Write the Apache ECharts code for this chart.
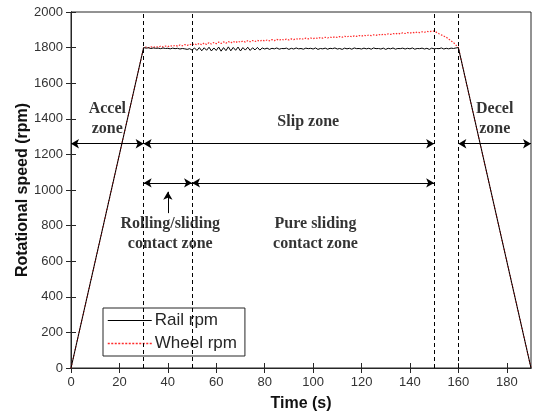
<!DOCTYPE html>
<html><head><meta charset="utf-8">
<script src="https://cdn.jsdelivr.net/npm/echarts@6/dist/echarts.min.js"></script>
<style>html,body{margin:0;padding:0;background:#fff}#c{width:536px;height:414px}</style>
</head><body><div id="c"></div>
<script>
// Rail rpm: ramp up 0->30 s, plateau 30..160 s (1 s steps), ramp down to 190 s
const railStartT = [0];
const railStartV = [0];
const railPlateauT0 = 30;
const railPlateau = [
1800,1797,1799,1795,1798,1796,1797,1794,1798,1795,1796,1793,1797,1794,1796,1792,1795,1793,1790,1794,
1786,1798,1784,1800,1782,1799,1785,1802,1781,1798,1784,1803,1780,1800,1783,1804,1782,1801,1785,1803,1781,1800,1786,1802,1784,1799,1787,1801,1786,1798,
1792,1797,1790,1796,1793,1798,1791,1795,1794,1797,1790,1796,1792,1798,1793,1795,1791,1797,1794,1796,
1792,1798,1790,1795,1793,1797,1791,1796,1794,1798,1792,1795,1790,1797,1793,1796,1791,1798,1794,1795,
1792,1797,1793,1796,1791,1798,1794,1795,1792,1797,1790,1796,1793,1798,1791,1795,1794,1797,1792,1796,
1793,1798,1791,1795,1794,1797,1792,1796,1790,1797,1793,1795,1794,1798,1792,1796,1793,1797,1795,1798,
1800];
const railEndT = [190];
const railEndV = [0];

// Wheel rpm
const wheelStartT = [0];
const wheelStartV = [0];
const wheelPlateauT0 = 30;
const wheelPlateau = [
1800,1803,1799,1805,1801,1806,1802,1808,1804,1809,
1805,1811,1807,1813,1808,1815,1810,1817,1812,1819,
1814,1822,1815,1824,1816,1826,1818,1828,1820,1829,
1822,1831,1823,1832,1825,1834,1826,1835,1828,1836,
1830,1837,1831,1839,1833,1840,1834,1841,1836,1842,
1837,1843,1838,1845,1839,1846,1841,1847,1842,1848,
1843,1849,1845,1850,1846,1852,1847,1853,1849,1854,
1850,1855,1851,1857,1853,1858,1854,1859,1856,1861,
1857,1862,1858,1864,1860,1865,1861,1866,1863,1868,
1864,1869,1866,1871,1867,1872,1869,1874,1870,1876,
1872,1877,1874,1879,1876,1881,1877,1883,1879,1884,
1881,1886,1882,1888,1884,1889,1886,1891,1888,1893,
1893];
const wheelDropT = [152,155,158,160,190];
const wheelDropV = [1878,1858,1828,1800,0];

const zoneLines = [30, 50, 150, 160];
const arrowRow1 = [[0,30],[30,150],[160,190]];
const arrowRow1Y = 1260;
const arrowRow2 = [[30,50],[50,150]];
const arrowRow2Y = 1040;
const upArrow = {t:40, from:870, to:990};
const zoneTexts = [
  {t:15, v:1397, text:'Accel\nzone'},
  {t:98, v:1385, text:'Slip zone'},
  {t:175, v:1397, text:'Decel\nzone'},
  {t:41, v:752, text:'Rolling/sliding\ncontact zone'},
  {t:101, v:752, text:'Pure sliding\ncontact zone'}
];
const xTickValues = [0,20,40,60,80,100,120,140,160,180];
const xRange = {min:0, max:190};
const yTicks = {min:0, max:2000, interval:200};

function build(startT, startV, t0, plateau, endT, endV){
  const d = [];
  startT.forEach((t,i)=>d.push([t,startV[i]]));
  plateau.forEach((v,i)=>d.push([t0+i,v]));
  endT.forEach((t,i)=>d.push([t,endV[i]]));
  return d;
}
const railData = build(railStartT, railStartV, railPlateauT0, railPlateau, railEndT, railEndV);
const wheelData = build(wheelStartT, wheelStartV, wheelPlateauT0, wheelPlateau, wheelDropT, wheelDropV);

const axisColor = '#262626';
const railColor = '#000';
const wheelColor = '#ff2a2a';
const labelStyle = {color:'#333', fontFamily:'Liberation Sans', fontSize:13};

const arrowLines = [];
arrowRow1.forEach(p=>arrowLines.push([{coord:[p[0],arrowRow1Y]},{coord:[p[1],arrowRow1Y]}]));
arrowRow2.forEach(p=>arrowLines.push([{coord:[p[0],arrowRow2Y]},{coord:[p[1],arrowRow2Y]}]));
arrowLines.push([{coord:[upArrow.t,upArrow.from], symbol:'none'},{coord:[upArrow.t,upArrow.to], symbol:'arrow'}]);

const chart = echarts.init(document.getElementById('c'), null, {renderer:'canvas'});
chart.setOption({
  animation:false,
  backgroundColor:'#fff',
  grid:{left:71, right:5, top:12, bottom:46, show:true, borderColor:axisColor, borderWidth:1,
        containLabel:false, outerBoundsMode:'none'},
  xAxis:[{
    type:'value', min:xRange.min, max:xRange.max,
    name:'Time (s)', nameLocation:'middle', nameGap:28, nameMoveOverlap:false,
    nameTextStyle:{fontFamily:'Liberation Sans', fontWeight:'bold', fontSize:16, color:'#111'},
    axisLine:{show:true, lineStyle:{color:axisColor}},
    axisTick:{show:true, inside:true, length:5, customValues:xTickValues, lineStyle:{color:axisColor}},
    axisLabel:Object.assign({margin:8, customValues:xTickValues}, labelStyle),
    splitLine:{show:false}
  },{
    type:'value', position:'top', min:xRange.min, max:xRange.max,
    axisLine:{show:true, lineStyle:{color:axisColor}},
    axisTick:{show:true, inside:true, length:5, customValues:xTickValues, lineStyle:{color:axisColor}},
    axisLabel:{show:false}, splitLine:{show:false}
  }],
  yAxis:[{
    type:'value', min:yTicks.min, max:yTicks.max, interval:yTicks.interval,
    name:'Rotational speed (rpm)', nameLocation:'middle', nameGap:40, nameMoveOverlap:false,
    nameTextStyle:{fontFamily:'Liberation Sans', fontWeight:'bold', fontSize:16, color:'#111'},
    axisLine:{show:true, lineStyle:{color:axisColor}},
    axisTick:{show:true, inside:true, length:5, lineStyle:{color:axisColor}},
    axisLabel:Object.assign({margin:8, formatter:v=>String(v)}, labelStyle),
    splitLine:{show:false}
  },{
    type:'value', position:'right', min:yTicks.min, max:yTicks.max, interval:yTicks.interval,
    axisLine:{show:true, lineStyle:{color:axisColor}},
    axisTick:{show:true, inside:true, length:5, lineStyle:{color:axisColor}},
    axisLabel:{show:false}, splitLine:{show:false}
  }],
  legend:{
    left:103, top:308, orient:'vertical', itemGap:6, itemWidth:44, itemHeight:10,
    padding:[4,8,4,4],
    borderColor:axisColor, borderWidth:1, backgroundColor:'#fff', borderRadius:0,
    textStyle:{fontFamily:'Liberation Sans', fontSize:17, color:'#262626', padding:[0,0,0,-2]},
    data:[
      {name:'Rail rpm', itemStyle:{color:railColor, opacity:0}, lineStyle:{color:railColor, width:1, type:'solid', opacity:1}},
      {name:'Wheel rpm', itemStyle:{color:wheelColor, opacity:0}, lineStyle:{color:wheelColor, width:1.5, type:[2,1.5], opacity:1}}
    ]
  },
  series:[
    {name:'Rail rpm', type:'line', data:railData, showSymbol:false, symbol:'none',
     lineStyle:{color:railColor, width:1}, itemStyle:{color:railColor}, z:3,
     markLine:{silent:true, symbol:['arrow','arrow'], symbolSize:[7,8], label:{show:false},
       lineStyle:{color:'#000', width:1, type:'solid'}, data:arrowLines}},
    {name:'Wheel rpm', type:'line', data:wheelData, showSymbol:false, symbol:'none',
     lineStyle:{color:wheelColor, width:1.2, type:[1.5,1.5]}, itemStyle:{color:wheelColor}, z:2,
     markLine:{silent:true, symbol:['none','none'], label:{show:false},
       lineStyle:{color:'#000', width:1, type:[4,3]},
       data:zoneLines.map(t=>({xAxis:t}))}},
    {name:'zones', type:'scatter', symbolSize:0, silent:true,
     data:zoneTexts.map(z=>({value:[z.t,z.v], text:z.text})),
     label:{show:true, position:'inside', formatter:p=>p.data.text,
       fontFamily:'Liberation Serif', fontWeight:'bold', fontSize:16, lineHeight:20, color:'#000', align:'center'}}
  ]
});
</script></body></html>
